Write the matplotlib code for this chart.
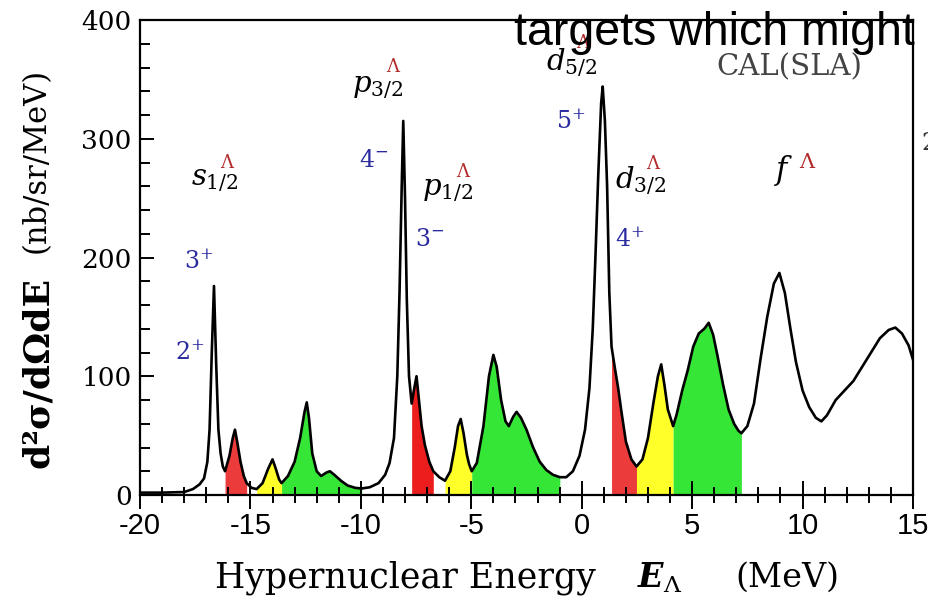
import matplotlib
matplotlib.use('Agg')
import matplotlib.pyplot as plt
from matplotlib.ticker import MultipleLocator
import numpy as np

plt.rcParams['font.family'] = 'DejaVu Serif'
plt.rcParams['mathtext.fontset'] = 'dejavuserif'
plt.rcParams['axes.unicode_minus'] = False

# calculated spectrum: hypernuclear energy (MeV) vs cross section (nb/sr/MeV)
energy = [-20.0, -19.0, -18.0, -17.6, -17.3, -17.1, -16.95, -16.85, -16.75, -16.65,
          -16.55, -16.45, -16.35, -16.25, -16.15, -15.95, -15.8, -15.7, -15.6, -15.45,
          -15.3, -15.17, -14.95, -14.72, -14.45, -14.2, -14.0, -13.85, -13.7, -13.59,
          -13.3, -13.0, -12.75, -12.55, -12.45, -12.35, -12.2, -12.0, -11.8, -11.55,
          -11.4, -11.2, -10.9, -10.6, -10.25, -9.96, -9.6, -9.2, -8.9, -8.7,
          -8.5, -8.35, -8.25, -8.15, -8.08, -8.0, -7.92, -7.82, -7.7, -7.6,
          -7.48, -7.38, -7.25, -7.1, -6.9, -6.72, -6.45, -6.19, -5.95, -5.75,
          -5.6, -5.48, -5.35, -5.2, -5.1, -4.98, -4.75, -4.45, -4.2, -4.0,
          -3.85, -3.65, -3.45, -3.3, -3.1, -2.95, -2.75, -2.5, -2.2, -1.9,
          -1.6, -1.3, -0.99, -0.7, -0.4, -0.1, 0.15, 0.35, 0.5, 0.62,
          0.75, 0.88, 0.95, 1.05, 1.15, 1.25, 1.35, 1.5, 1.65, 1.8,
          2.0, 2.25, 2.48, 2.75, 3.0, 3.25, 3.45, 3.6, 3.75, 3.9,
          4.14, 4.3, 4.55, 4.8, 5.05, 5.3, 5.55, 5.75, 5.95, 6.15,
          6.4, 6.65, 6.9, 7.1, 7.23, 7.5, 7.8, 8.1, 8.4, 8.7,
          8.95, 9.2, 9.45, 9.7, 10.0, 10.3, 10.6, 10.85, 11.1, 11.5,
          11.9, 12.3, 12.7, 13.1, 13.5, 13.9, 14.2, 14.5, 14.8, 15.0]
xsec = [2, 2, 2.5, 5, 9, 14, 28, 55, 120, 176,
        110, 55, 35, 24, 20, 33, 48, 55, 45, 28,
        16, 10, 6, 5, 10, 22, 30, 22, 13, 10,
        16, 28, 48, 70, 78, 65, 35, 20, 16, 19,
        20, 17, 12, 8, 6, 5.5, 6.5, 10, 17, 27,
        48, 100, 170, 260, 315, 250, 165, 100, 77, 88,
        100, 82, 58, 42, 28, 20, 15, 12, 20, 40,
        58, 64, 52, 34, 26, 20, 27, 58, 100, 118,
        108, 80, 62, 58, 66, 70, 65, 55, 40, 28,
        21, 17, 15, 15, 20, 33, 55, 90, 140, 200,
        270, 330, 344, 315, 260, 170, 125, 107, 90, 70,
        45, 30, 24, 30, 48, 78, 100, 110, 92, 72,
        58, 68, 88, 105, 125, 136, 140, 145, 135, 117,
        93, 72, 60, 54, 52, 58, 77, 115, 150, 178,
        187, 170, 140, 112, 88, 74, 65, 62, 67, 80,
        88, 96, 108, 120, 132, 139, 141, 136, 126, 114]

# shaded energy bands under the curve
band_lo = [-16.15, -14.72, -13.59, -7.7, -6.19, -4.98, 1.35, 2.48, 4.14]
band_hi = [-15.17, -13.59, -9.96, -6.72, -4.98, -0.99, 2.48, 4.14, 7.23]
band_col = ['#ec3b3b', '#ffff2a', '#36e636', '#ec1d1d', '#ffff2a', '#36e636',
            '#ec3b3b', '#ffff2a', '#36e636']

energy = np.array(energy)
xsec = np.array(xsec)

fig = plt.figure(figsize=(9.29, 6.05), dpi=100)
ax = fig.add_axes([140 / 929, 1 - 495 / 605, 773 / 929, 475 / 605])

for lo, hi, c in zip(band_lo, band_hi, band_col):
    m = (energy >= lo) & (energy <= hi)
    ax.fill_between(energy[m], 0, xsec[m], color=c, lw=0, zorder=1)

ax.plot(energy, xsec, color='black', lw=1.9, solid_joinstyle='round', zorder=3)

ax.set_xlim(-20, 15)
ax.set_ylim(0, 400)
for s in ax.spines.values():
    s.set_linewidth(1.6)

ax.xaxis.set_major_locator(MultipleLocator(5))
ax.xaxis.set_minor_locator(MultipleLocator(1))
ax.yaxis.set_major_locator(MultipleLocator(100))
ax.yaxis.set_minor_locator(MultipleLocator(20))
ax.tick_params(axis='x', which='major', direction='inout', length=20, width=1.4,
               labelsize=21, pad=2)
ax.tick_params(axis='x', which='minor', direction='inout', length=11, width=1.4)
ax.tick_params(axis='y', which='major', direction='in', length=10, width=1.4,
               labelsize=19, pad=6)
ax.tick_params(axis='y', which='minor', direction='in', length=7, width=1.4)
for lab in ax.get_xticklabels():
    lab.set_family('Liberation Sans')

# axis titles
fig.text(405 / 929, 1 - 578 / 605, 'Hypernuclear Energy', ha='center',
         va='center', fontsize=25)
fig.text(660 / 929, 1 - 578 / 605, r'$\mathbfit{E}_{\Lambda}$', ha='center',
         va='center', fontsize=24)
fig.text(787 / 929, 1 - 578 / 605, '(MeV)', ha='center', va='center', fontsize=24)
fig.text(38 / 929, 1 - 372 / 605, 'd²σ/dΩdE', rotation=90, ha='center',
         va='center', fontsize=26, fontweight='bold')
fig.text(36 / 929, 1 - 160 / 605, '(nb/sr/MeV)', rotation=90, ha='center',
         va='center', fontsize=22)

# single-particle orbit labels
red = '#b22a2a'
blue = '#2b2ba0'
orbits = [(r'$s_{1/2}$', -16.6, 265, -16.1, 280),
          (r'$p_{3/2}$', -9.23, 344, -8.55, 360),
          (r'$p_{1/2}$', -6.06, 257, -5.38, 272),
          (r'$d_{5/2}$', -0.44, 364, 0.05, 381),
          (r'$d_{3/2}$', 2.68, 265, 3.22, 279)]
for txt, tx, ty, lx, ly in orbits:
    ax.text(tx, ty, txt, ha='center', va='center', fontsize=21, zorder=4)
    ax.text(lx, ly, 'Λ', ha='center', va='center', fontsize=13, color=red, zorder=4)
ax.text(9.15, 273, r'$f$', ha='center', va='center', fontsize=22)
ax.text(10.19, 280, 'Λ', ha='center', va='center', fontsize=15, color=red)

# spin-parity assignments
spins = [(r'$3^{+}$', -17.33, 196), (r'$2^{+}$', -17.74, 120),
         (r'$4^{-}$', -9.41, 282), (r'$3^{-}$', -6.87, 215),
         (r'$5^{+}$', -0.49, 314), (r'$4^{+}$', 2.18, 215)]
for txt, tx, ty in spins:
    ax.text(tx, ty, txt, ha='center', va='center', fontsize=17, color=blue)

ax.text(9.38, 360, 'CAL(SLA)', ha='center', va='center', fontsize=21, color='#444444')

fig.text(921 / 929, 1 - 143 / 605, '2', ha='left', va='center', fontsize=17,
         color='#333333')
fig.text(714 / 929, 1 - 45 / 605, 'targets which might', ha='center', va='baseline',
         fontsize=33.5, family='Liberation Sans', color='black', zorder=10)

fig.savefig('out.png', dpi=100)
